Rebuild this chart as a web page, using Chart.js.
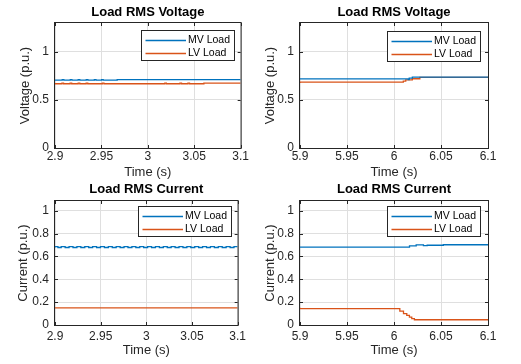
<!DOCTYPE html>
<html>
<head>
<meta charset="utf-8">
<script src="https://cdn.jsdelivr.net/npm/chart.js@4.4.0/dist/chart.umd.min.js"></script>
<style>
  body { margin: 0; background: #fff; }
  #fig { position: relative; width: 521px; height: 364px; overflow: hidden; background: #fff; }
  #fig canvas { position: absolute; }
</style>
</head>
<body>
<div id="fig">
  <canvas id="voltA" width="250" height="182" style="left:0px;top:0px"></canvas>
  <canvas id="voltB" width="276" height="182" style="left:245px;top:0px"></canvas>
  <canvas id="currA" width="250" height="182" style="left:0px;top:182px"></canvas>
  <canvas id="currB" width="276" height="182" style="left:245px;top:182px"></canvas>
</div>
<script>
const seriesNames = ['MV Load', 'LV Load'];
const seriesColors = ['#0072BD', '#D95319'];
const voltTicks = [0, 0.5, 1];
const currTicks = [0, 0.2, 0.4, 0.6, 0.8, 1];
const timeTicksA = [2.9, 2.95, 3, 3.05, 3.1];
const timeTicksB = [5.9, 5.95, 6, 6.05, 6.1];

// voltage, window around 3 s (small dips are sampling blips)
const tMvVoltA = [2.9, 2.9078, 2.9095, 2.9165, 2.9182, 2.925, 2.9267, 2.9337, 2.9354, 2.9424, 2.9441, 2.9502, 2.9519, 2.967, 2.9687, 3.1];
const mvVoltA = [0.712, 0.705, 0.712, 0.705, 0.712, 0.705, 0.712, 0.705, 0.712, 0.705, 0.712, 0.705, 0.712, 0.705, 0.712, 0.712];
const tLvVoltA = [2.9, 2.9075, 2.9092, 2.9163, 2.918, 2.925, 2.9267, 2.9336, 2.9353, 2.951, 2.9527, 3.0183, 3.02, 3.0346, 3.0363, 3.0432, 3.0449, 3.0604, 3.0621, 3.1];
const lvVoltA = [0.675, 0.668, 0.675, 0.668, 0.675, 0.668, 0.675, 0.668, 0.675, 0.668, 0.675, 0.668, 0.675, 0.668, 0.675, 0.668, 0.675, 0.668, 0.675, 0.675];

// voltage, window around 6 s
const tMvVoltB = [5.9, 6.0152, 6.0162, 6.0195, 6.054, 6.1];
const mvVoltB = [0.712, 0.719, 0.712, 0.727, 0.737, 0.737];
const tLvVoltB = [5.9, 6.0099, 6.0125, 6.0195, 6.0275, 6.087, 6.1];
const lvVoltB = [0.675, 0.685, 0.696, 0.709, 0.72, 0.735, 0.735];

// current, window around 3 s
const tMvCurrA = [2.9, 2.9032, 2.9068, 2.9111, 2.9154, 2.9197, 2.924, 2.9283, 2.9326, 2.9369, 2.9412, 2.9455,
  2.9498, 2.9541, 2.9584, 2.9627, 2.967, 2.9713, 2.9756, 2.9799, 2.9842, 2.9885, 2.9928, 2.9971,
  3.0014, 3.0057, 3.01, 3.0143, 3.0186, 3.0229, 3.0272, 3.0315, 3.0358, 3.0401, 3.0444, 3.0487,
  3.053, 3.0573, 3.0616, 3.0659, 3.0702, 3.0745, 3.0788, 3.0831, 3.0874, 3.0917, 3.096, 3.1];
const mvCurrA = [0.678, 0.686, 0.678, 0.686, 0.678, 0.686, 0.678, 0.686, 0.678, 0.686, 0.678, 0.686,
  0.678, 0.686, 0.678, 0.686, 0.678, 0.686, 0.678, 0.686, 0.678, 0.686, 0.678, 0.686,
  0.678, 0.686, 0.678, 0.686, 0.678, 0.686, 0.678, 0.686, 0.678, 0.686, 0.678, 0.686,
  0.678, 0.686, 0.678, 0.686, 0.678, 0.686, 0.678, 0.686, 0.678, 0.686, 0.678, 0.686];
const tLvCurrA = [2.9, 3.1];
const lvCurrA = [0.15, 0.15];

// current, window around 6 s
const tMvCurrB = [5.9, 6.0165, 6.0236, 6.0313, 6.0353, 6.0525, 6.059, 6.1];
const mvCurrB = [0.686, 0.681, 0.693, 0.701, 0.694, 0.698, 0.702, 0.702];
const tLvCurrB = [5.9, 6.0062, 6.0101, 6.0136, 6.0164, 6.0189, 6.0217, 6.0232, 6.1];
const lvCurrB = [0.15, 0.143, 0.122, 0.099, 0.084, 0.069, 0.055, 0.046, 0.046];

const FONT = '"Liberation Sans", Arial, Helvetica, sans-serif';
const AXIS_COLOR = '#262626';

// axes box with inward ticks, like MATLAB
const boxPlugin = {
  id: 'matBox',
  afterDraw(chart) {
    const { ctx, chartArea: a, scales } = chart;
    ctx.save();
    ctx.strokeStyle = AXIS_COLOR;
    ctx.lineWidth = 1;
    ctx.strokeRect(a.left - 0.5, a.top - 0.5, a.width + 1, a.height + 1);
    ctx.beginPath();
    scales.x.ticks.forEach(t => {
      const px = Math.round(scales.x.getPixelForValue(t.value)) + 0.5;
      ctx.moveTo(px, a.bottom); ctx.lineTo(px, a.bottom - 3);
      ctx.moveTo(px, a.top); ctx.lineTo(px, a.top + 3);
    });
    scales.y.ticks.forEach(t => {
      const py = Math.round(scales.y.getPixelForValue(t.value)) + 0.5;
      ctx.moveTo(a.left, py); ctx.lineTo(a.left + 3, py);
      ctx.moveTo(a.right, py); ctx.lineTo(a.right - 3, py);
    });
    ctx.stroke();
    ctx.restore();
  }
};

// boxed legend in the north-east corner
const legendPlugin = {
  id: 'matLegend',
  afterDraw(chart, args, opts) {
    const { ctx, chartArea: a } = chart;
    const w = 93, h = 30;
    const x = Math.round(a.right - opts.right - w), y = Math.round(a.top + opts.top);
    ctx.save();
    ctx.fillStyle = '#fff';
    ctx.fillRect(x, y, w, h);
    ctx.strokeStyle = AXIS_COLOR;
    ctx.lineWidth = 1;
    ctx.strokeRect(x + 0.5, y + 0.5, w, h);
    ctx.font = '10.5px ' + FONT;
    ctx.textBaseline = 'middle';
    chart.data.datasets.forEach((ds, i) => {
      const cy = Math.round(y + 9.5 + i * 13.4) + 0.5;
      ctx.strokeStyle = ds.borderColor;
      ctx.lineWidth = 1.3;
      ctx.beginPath();
      ctx.moveTo(x + 4.5, cy); ctx.lineTo(x + 45, cy);
      ctx.stroke();
      ctx.fillStyle = '#000';
      ctx.fillText(ds.label, x + 47, cy);
    });
    ctx.restore();
  }
};

function makeSeries(ts, vs, i) {
  return {
    label: seriesNames[i],
    data: ts.map((t, k) => ({ x: t, y: vs[k] })),
    borderColor: seriesColors[i],
    borderWidth: 1.3,
    pointRadius: 0,
    stepped: 'after',
    fill: false
  };
}

function makePanel(id, p) {
  const cv = document.getElementById(id);
  const W = cv.width, H = cv.height;
  new Chart(cv, {
    type: 'line',
    data: {
      datasets: [makeSeries(p.tMv, p.mv, 0), makeSeries(p.tLv, p.lv, 1)]
    },
    plugins: [boxPlugin, legendPlugin],
    options: {
      responsive: false,
      animation: false,
      layout: { padding: { left: 0, top: 0, bottom: 0, right: W - p.right } },
      plugins: {
        legend: { display: false },
        tooltip: { enabled: false },
        title: {
          display: true,
          fullSize: false,
          text: p.title,
          color: '#000',
          font: { family: FONT, size: 13, weight: 'bold', lineHeight: 1.2 },
          padding: { top: p.titleTop, bottom: p.top - p.titleTop - 15.6 }
        },
        matLegend: { right: p.legRight, top: p.legTop }
      },
      scales: {
        x: {
          type: 'linear',
          min: p.xTicks[0],
          max: p.xTicks[p.xTicks.length - 1],
          afterBuildTicks: s => { s.ticks = p.xTicks.map(v => ({ value: v })); },
          afterFit: s => { s.height = H - p.bottom; },
          grid: { color: '#dfdfdf', drawTicks: false },
          border: { display: false },
          ticks: {
            color: AXIS_COLOR, padding: p.xPad, maxRotation: 0,
            font: { family: FONT, size: 12 },
            callback: v => String(v)
          },
          title: {
            display: true, text: 'Time (s)', color: AXIS_COLOR,
            font: { family: FONT, size: 13 },
            padding: { top: 0, bottom: p.xTitleBottom }
          }
        },
        y: {
          type: 'linear',
          min: 0,
          max: p.yMax,
          afterBuildTicks: s => { s.ticks = p.yTicks.map(v => ({ value: v })); },
          afterFit: s => { s.width = p.left; },
          grid: { color: '#dfdfdf', drawTicks: false },
          border: { display: false },
          ticks: {
            color: AXIS_COLOR, padding: 6,
            font: { family: FONT, size: 12 },
            callback: v => String(v)
          },
          title: {
            display: true, text: p.yLabel, color: AXIS_COLOR,
            font: { family: FONT, size: 13 },
            padding: { top: p.yTitleX - 7.8, bottom: 0 }
          }
        }
      }
    }
  });
}

makePanel('voltA', {
  title: 'Load RMS Voltage', yLabel: 'Voltage (p.u.)',
  tMv: tMvVoltA, mv: mvVoltA, tLv: tLvVoltA, lv: lvVoltA,
  xTicks: timeTicksA, yTicks: voltTicks, yMax: 1.3,
  left: 55, right: 241, top: 23, bottom: 148, titleTop: 5,
  xPad: 1, xTitleBottom: 2, yTitleX: 25, legRight: 7, legTop: 7
});
makePanel('voltB', {
  title: 'Load RMS Voltage', yLabel: 'Voltage (p.u.)',
  tMv: tMvVoltB, mv: mvVoltB, tLv: tLvVoltB, lv: lvVoltB,
  xTicks: timeTicksB, yTicks: voltTicks, yMax: 1.3,
  left: 55, right: 243, top: 23, bottom: 148, titleTop: 5,
  xPad: 1, xTitleBottom: 2, yTitleX: 25, legRight: 8, legTop: 8
});
makePanel('currA', {
  title: 'Load RMS Current', yLabel: 'Current (p.u.)',
  tMv: tMvCurrA, mv: mvCurrA, tLv: tLvCurrA, lv: lvCurrA,
  xTicks: timeTicksA, yTicks: currTicks, yMax: 1.085,
  left: 55, right: 241, top: 19, bottom: 143, titleTop: 0,
  xPad: 4, xTitleBottom: 6, yTitleX: 23, legRight: 7, legTop: 5
});
makePanel('currB', {
  title: 'Load RMS Current', yLabel: 'Current (p.u.)',
  tMv: tMvCurrB, mv: mvCurrB, tLv: tLvCurrB, lv: lvCurrB,
  xTicks: timeTicksB, yTicks: currTicks, yMax: 1.085,
  left: 55, right: 243, top: 19, bottom: 143, titleTop: 0,
  xPad: 4, xTitleBottom: 6, yTitleX: 25, legRight: 8, legTop: 5
});
</script>
</body>
</html>
